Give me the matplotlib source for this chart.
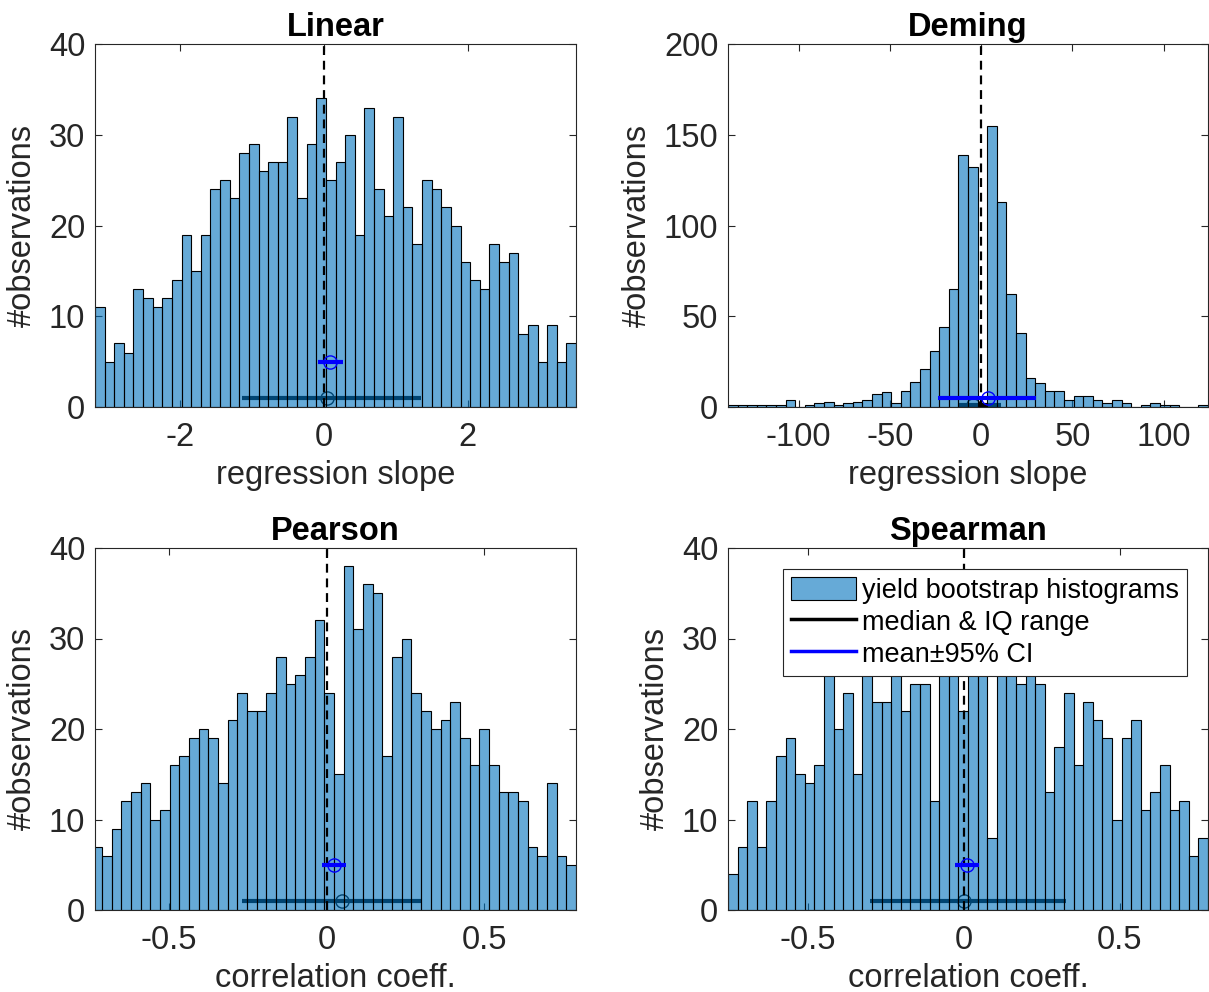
import numpy as np
import matplotlib
matplotlib.use("Agg")
import matplotlib.pyplot as plt
from matplotlib.patches import Patch
from matplotlib.lines import Line2D

plt.rcParams['font.family'] = ['Liberation Sans', 'DejaVu Sans']
plt.rcParams['axes.unicode_minus'] = False

# ---------------- data ----------------
titles = ["Linear", "Deming", "Pearson", "Spearman"]
xlabels = ["regression slope", "regression slope", "correlation coeff.", "correlation coeff."]

linear_counts = [11, 5, 7, 6, 13, 12, 11, 12, 14, 19, 15, 19, 24, 25, 23, 28, 29, 26, 27, 27,
                 32, 23, 29, 34, 25, 27, 30, 19, 33, 24, 21, 32, 22, 18, 25, 24, 22, 20, 16, 14,
                 13, 18, 16, 17, 8, 9, 5, 9, 5, 7]
deming_counts = [1, 1, 1, 1, 1, 1, 4, 0, 1, 2, 3, 1, 2, 3, 4, 7, 8, 2, 9, 14,
                 21, 31, 44, 65, 139, 132, 0, 155, 113, 62, 41, 16, 13, 9, 9, 4, 6, 6, 4, 2,
                 4, 2, 0, 1, 2, 1, 1, 0, 0, 1]
pearson_counts = [7, 6, 9, 12, 13, 14, 10, 11, 16, 17, 19, 20, 19, 14, 21, 24, 22, 22, 24, 28,
                  25, 26, 28, 32, 24, 15, 38, 31, 36, 35, 17, 28, 30, 24, 22, 20, 21, 23, 19, 16,
                  20, 16, 13, 13, 12, 7, 6, 14, 6, 5]
spearman_counts = [4, 7, 12, 7, 12, 17, 19, 15, 14, 16, 26, 20, 24, 15, 27, 23, 23, 29, 22, 25,
                   25, 12, 30, 28, 22, 36, 34, 8, 31, 30, 25, 26, 25, 13, 18, 24, 16, 23, 21, 19,
                   10, 19, 21, 11, 13, 16, 11, 12, 6, 8]
all_counts = [linear_counts, deming_counts, pearson_counts, spearman_counts]

bin_start = [-3.19, -138.6, -0.7446, -0.7546]
bin_width = [0.134, 5.256, 0.03071, 0.03073]
x_limits = [(-3.19, 3.51), (-138.6, 124.2), (-0.7356, 0.791), (-0.7546, 0.782)]
y_max = [40, 200, 40, 40]
y_ticks = [[0, 10, 20, 30, 40], [0, 50, 100, 150, 200], [0, 10, 20, 30, 40], [0, 10, 20, 30, 40]]
x_ticks = [[-2, 0, 2], [-100, -50, 0, 50, 100], [-0.5, 0, 0.5], [-0.5, 0, 0.5]]
x_ticklabels = [["-2", "0", "2"], ["-100", "-50", "0", "50", "100"],
                ["-0.5", "0", "0.5"], ["-0.5", "0", "0.5"]]

mean_val = [0.08, 3.6, 0.024, 0.010]
mean_ci_lo = [-0.084, -23.5, -0.014, -0.028]
mean_ci_hi = [0.26, 30.0, 0.061, 0.048]
mean_level = 5
median_val = [0.046, -4.6, 0.048, 0.0]
iqr_lo = [-1.14, -12.8, -0.27, -0.301]
iqr_hi = [1.35, 10.9, 0.303, 0.327]
median_level = 1

legend_labels = ["yield bootstrap histograms", "median & IQ range", "mean\u00b195% CI"]

# ---------------- style ----------------
W, H = 1209, 992
fig = plt.figure(figsize=(W / 100, H / 100), dpi=100)
FS = 23.5
bar_face = (0.0, 0.447, 0.741, 0.6)
axcol = (0.15, 0.15, 0.15)

# axes boxes in pixels: (left, top, right, bottom)
boxes = [(95, 44, 576, 407), (728, 44, 1208, 407), (95, 548, 576, 910), (728, 548, 1208, 910)]

axes = []
for i in range(4):
    l, t, r, b = boxes[i]
    ax = fig.add_axes([l / W, 1 - b / H, (r - l) / W, (b - t) / H])
    axes.append(ax)
    counts = np.array(all_counts[i])
    edges = bin_start[i] + bin_width[i] * np.arange(len(counts) + 1)
    # median & IQR (under the translucent bars)
    ax.plot([iqr_lo[i], iqr_hi[i]], [median_level, median_level], color='black', lw=3,
            solid_capstyle='butt', zorder=1)
    ax.plot([median_val[i]], [median_level], 'o', mfc='none', mec='black', ms=9.5, mew=1.0,
            zorder=1)
    ax.bar(edges[:-1], counts, width=np.diff(edges), align='edge', facecolor=bar_face,
           edgecolor='black', linewidth=0.8, zorder=2)
    # zero line
    ln = ax.axvline(0, color='black', lw=1.6, zorder=3)
    ln.set_linestyle((0, (4, 2.6)))
    # mean & CI
    ax.plot([mean_ci_lo[i], mean_ci_hi[i]], [mean_level, mean_level], color='blue', lw=3,
            solid_capstyle='butt', zorder=4)
    ax.plot([mean_val[i]], [mean_level], 'o', mfc='none', mec='blue', ms=9.5, mew=1.0, zorder=5)

    ax.set_xlim(*x_limits[i])
    ax.set_ylim(0, y_max[i])
    ax.set_yticks(y_ticks[i])
    ax.set_xticks(x_ticks[i])
    ax.set_xticklabels(x_ticklabels[i])
    ax.tick_params(direction='in', length=5, width=0.8, color=axcol, labelcolor=axcol,
                   labelsize=FS, top=True, right=True)
    ax.tick_params(axis='x', pad=11)
    ax.tick_params(axis='y', pad=7)
    for s in ax.spines.values():
        s.set_color(axcol)
        s.set_linewidth(0.8)
    ax.set_title(titles[i], fontsize=FS, fontweight='bold', pad=6, color='black')
    ax.set_xlabel(xlabels[i], fontsize=FS, color=axcol, labelpad=5)
    ax.set_ylabel("#observations", fontsize=FS, color=axcol, labelpad=8)

handles = [Patch(facecolor=bar_face, edgecolor='black', linewidth=0.8),
           Line2D([], [], color='black', lw=2.5),
           Line2D([], [], color='blue', lw=2.5)]
leg = axes[3].legend(handles, legend_labels, loc='upper right', bbox_to_anchor=(0.956, 0.942),
                     borderaxespad=0, fontsize=19.5, frameon=True, fancybox=False, framealpha=1,
                     edgecolor=axcol, handlelength=2.4, handleheight=0.9, handletextpad=0.2,
                     labelspacing=0.2, borderpad=0.3)
leg.get_frame().set_linewidth(0.8)
leg.set_zorder(10)

fig.savefig("out.png", dpi=100)
